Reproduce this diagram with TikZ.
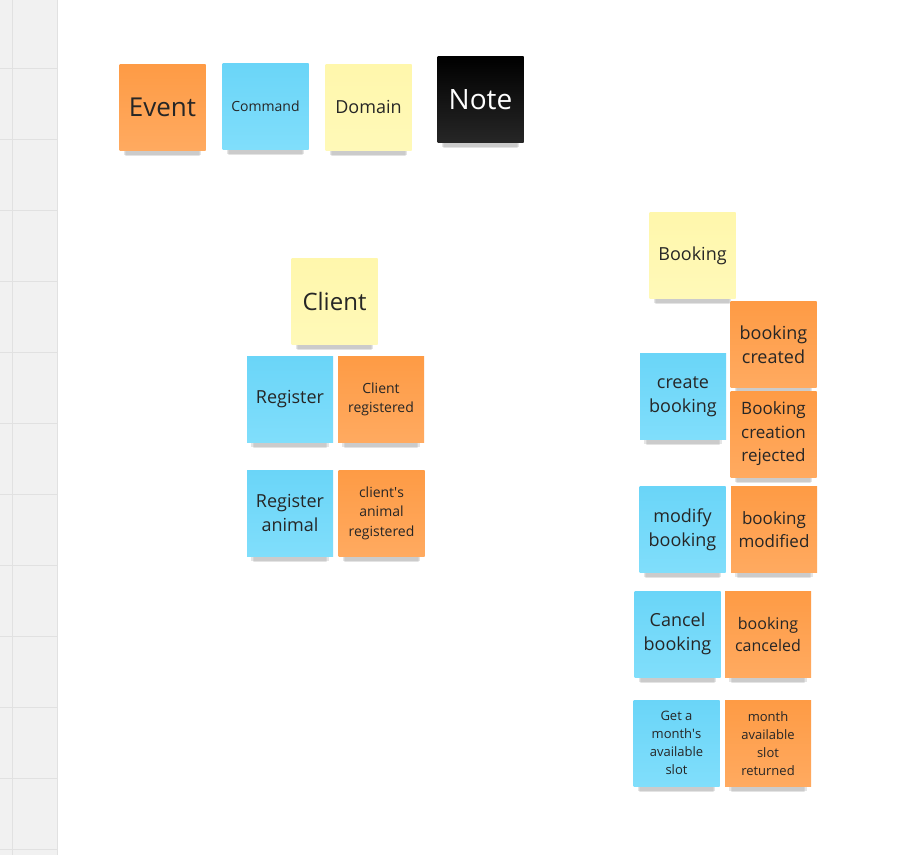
\documentclass[tikz,border=0pt]{standalone}
\usepackage{fontspec}
\setmainfont{Open Sans}
\usetikzlibrary{shadows}

\definecolor{event_top}{HTML}{FE9B45}
\definecolor{event_bot}{HTML}{FFAA60}
\definecolor{command_top}{HTML}{6AD5F8}
\definecolor{command_bot}{HTML}{80DEFB}
\definecolor{domain_top}{HTML}{FFF7AC}
\definecolor{domain_bot}{HTML}{FFF9B8}
\definecolor{note_text}{HTML}{262626}
\definecolor{strip_fill}{HTML}{F1F1F1}
\definecolor{strip_line}{HTML}{E1E1E1}

\tikzset{sticky/.style={inner sep=0pt, outer sep=0pt, minimum width=86pt, minimum height=86pt, align=center, text=note_text,
    general shadow={fill=black, opacity=0.04, shadow yshift=-15pt, shadow scale=0.84},
    general shadow={fill=black, opacity=0.07, shadow yshift=-13pt, shadow scale=0.87},
    general shadow={fill=black, opacity=0.1, shadow yshift=-10pt, shadow scale=0.9}}}
\tikzset{event_note/.style={sticky, top color=event_top, bottom color=event_bot}}
\tikzset{command_note/.style={sticky, top color=command_top, bottom color=command_bot}}
\tikzset{domain_note/.style={sticky, top color=domain_top, bottom color=domain_bot}}
\tikzset{black_note/.style={sticky, top color=black, bottom color=black!85!white, text=white}}
\newcommand{\fsz}[2]{\fontsize{#1}{#2}\selectfont}

\begin{document}
\begin{tikzpicture}[x=1pt, y=-1pt]
    \useasboundingbox[fill=white] (0,0) rectangle (916,855);
    % grid strip on the left
    \fill[strip_fill] (0,0) rectangle (57,855);
    \draw[strip_line] (57,0) -- (57,855);
    \draw[strip_line] (12,0) -- (12,855);
    \foreach \k in {0,...,11}{\draw[strip_line] (0,68+\k*71) -- (57,68+\k*71);}

    % legend
    \node[event_note, font=\fsz{26}{30}] (ev_key) at (162.5,107) {Event};
    \node[command_note, font=\fsz{14}{18}] (cmd_key) at (265.5,106) {Command};
    \node[domain_note, font=\fsz{18}{22}] (dom_key) at (368.5,107) {Domain};
    \node[black_note, font=\fsz{28}{32}] (note_key) at (480.5,99.5) {Note};

    % client
    \node[domain_note, font=\fsz{24}{28}] (client) at (334.5,301) {Client};
    \node[command_note, font=\fsz{18}{24}] (register) at (290,399) {Register};
    \node[event_note, font=\fsz{14}{19.5}] (registered) at (381,399.5) {Client\\registered};
    \node[command_note, font=\fsz{18}{24}] (reg_animal) at (290,513) {Register\\animal};
    \node[event_note, font=\fsz{14}{19.5}] (animal_registered) at (381.5,513) {client\textquotesingle s\\animal\\registered};

    % booking
    \node[domain_note, font=\fsz{18}{24}] (booking) at (692.5,255.5) {Booking};
    \node[event_note, font=\fsz{18}{24}] (created) at (773.5,344.5) {booking\\created};
    \node[command_note, font=\fsz{18}{24}] (create) at (683,396.5) {create\\booking};
    \node[event_note, font=\fsz{17}{23.5}] (rejected) at (773.5,434) {Booking\\creation\\rejected};
    \node[command_note, font=\fsz{18}{24}] (modify) at (682.5,529.5) {modify\\booking};
    \node[event_note, font=\fsz{17}{23}] (modified) at (774,529.5) {booking\\modified};
    \node[command_note, font=\fsz{18}{24}] (cancel) at (677.5,634) {Cancel\\booking};
    \node[event_note, font=\fsz{16}{22}] (canceled) at (768,634) {booking\\canceled};
    \node[command_note, font=\fsz{13}{18}] (get_slot) at (676.5,743) {Get a\\month\textquotesingle s\\available\\slot};
    \node[event_note, font=\fsz{13}{18}] (slot_returned) at (768,743.5) {month\\available\\slot\\returned};
\end{tikzpicture}
\end{document}
